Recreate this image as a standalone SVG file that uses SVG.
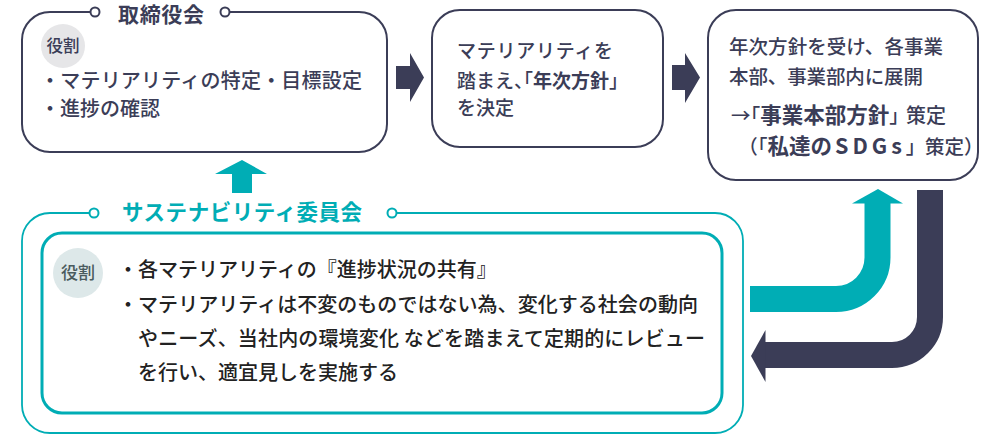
<svg xmlns="http://www.w3.org/2000/svg" width="1000" height="436" viewBox="0 0 1000 436">
<style>
text{font-family:"Noto Sans CJK JP","Noto Sans",sans-serif}
.dk{fill:#3b3d57}
.body{font-size:20px;font-weight:500}
.b19{font-size:19px;font-weight:500}
.b{font-weight:700}
.h{font-feature-settings:"halt"}
.dline{fill:none;stroke:#3b3d57;stroke-width:2}
.tline{fill:none;stroke:#00adb5}
.dot{fill:#fff;stroke-width:2}
.inner{fill:#222;font-size:20px;font-weight:500}
</style>
<rect width="1000" height="436" fill="#fff"/>
<g id="connectors">
<polygon points="396,66 410,66 410,53 424,77.5 410,102 410,89 396,89" fill="#3b3d57"/>
<polygon points="672,65 685,65 685,53 700,77.5 685,103 685,90 672,90" fill="#3b3d57"/>
<polygon points="232,193 252,193 252,174 267,174 242,160 215,174 232,174" fill="#00adb5"/>
<path d="M750,299 H836 A41.5 41.5 0 0 0 877.5,257.5 V203" fill="none" stroke="#00adb5" stroke-width="26"/>
<polygon points="852,203.5 903,203.5 878,189" fill="#00adb5"/>
<path d="M930,190 V317 A38 38 0 0 1 892,355 H765" fill="none" stroke="#3b3d57" stroke-width="26"/>
<polygon points="765.5,330 765.5,382 751,356" fill="#3b3d57"/>
</g>
<g id="board">
<path class="dline" d="M91,12 H50 A28 28 0 0 0 22,40 V124 A28 28 0 0 0 50,152 H359 A28 28 0 0 0 387,124 V40 A28 28 0 0 0 359,12 H229"/>
<circle class="dot" cx="95" cy="12" r="4.5" stroke="#3b3d57"/>
<circle class="dot" cx="225" cy="12" r="4.5" stroke="#3b3d57"/>
<text class="dk b" x="118" y="22" font-size="21" textLength="86">取締役会</text>
<circle cx="63" cy="46" r="22" fill="#e6e6e8"/>
<text class="dk" x="63" y="52" font-size="16.5" font-weight="500" text-anchor="middle">役割</text>
<text class="dk body" x="40" y="88" textLength="322">・マテリアリティの特定・目標設定</text>
<text class="dk body" x="40" y="116">・進捗の確認</text>
</g>
<g id="policy">
<rect class="dline" x="432" y="10" width="231" height="137" rx="28"/>
<text class="dk b19" x="457" y="58" textLength="156">マテリアリティを</text>
<text class="dk b19" x="457" y="88">踏まえ<tspan class="h">、「</tspan><tspan class="b">年次方針</tspan><tspan class="h">」</tspan></text>
<text class="dk b19" x="457" y="115">を決定</text>
</g>
<g id="division">
<rect class="dline" x="708" y="10" width="270" height="170" rx="28"/>
<text class="dk" x="729" y="54" font-size="19.5" font-weight="500" textLength="214">年次方針を受け、各事業</text>
<text class="dk" x="729" y="84" font-size="19.5" font-weight="500" textLength="194">本部、事業部内に展開</text>
<text class="dk" y="123" font-size="19.5" font-weight="500"><tspan x="731">→</tspan><tspan class="h">「</tspan><tspan class="b" font-size="21.5">事業本部方針</tspan><tspan class="h">」</tspan><tspan x="906" font-size="20">策定</tspan></text>
<text class="dk" y="154" font-size="19.5" font-weight="500"><tspan x="748" class="h">（「</tspan><tspan class="b" font-size="21.5">私達の</tspan><tspan x="835" class="b" font-size="21.5" letter-spacing="4">SDGs</tspan><tspan class="h">」</tspan><tspan x="925">策定</tspan><tspan class="h">）</tspan></text>
</g>
<g id="committee">
<path class="tline" stroke-width="1.8" d="M89.5,213 H50 A28 28 0 0 0 22,241 V405 A28 28 0 0 0 50,433 H715 A28 28 0 0 0 743,405 V241 A28 28 0 0 0 715,213 H396.5"/>
<circle class="dot" cx="94" cy="213" r="4.5" stroke="#00adb5"/>
<circle class="dot" cx="392" cy="213" r="4.5" stroke="#00adb5"/>
<text x="122" y="220" font-size="21.5" font-weight="700" fill="#00adb5" textLength="240">サステナビリティ委員会</text>
<rect class="tline" stroke-width="3" x="42" y="233" width="680" height="180" rx="20"/>
<circle cx="78" cy="273" r="25" fill="#dde8e9"/>
<text x="78" y="279" font-size="17" font-weight="500" fill="#4a5b5e" text-anchor="middle">役割</text>
<text class="inner" x="118" y="277">・各マテリアリティの『進捗状況の共有』</text>
<text class="inner" x="118" y="312" textLength="580">・マテリアリティは不変のものではない為、変化する社会の動向</text>
<text class="inner" x="138" y="346" textLength="567">やニーズ、当社内の環境変化 などを踏まえて定期的にレビュー</text>
<text class="inner" x="138" y="380">を行い、適宜見しを実施する</text>
</g>
</svg>
